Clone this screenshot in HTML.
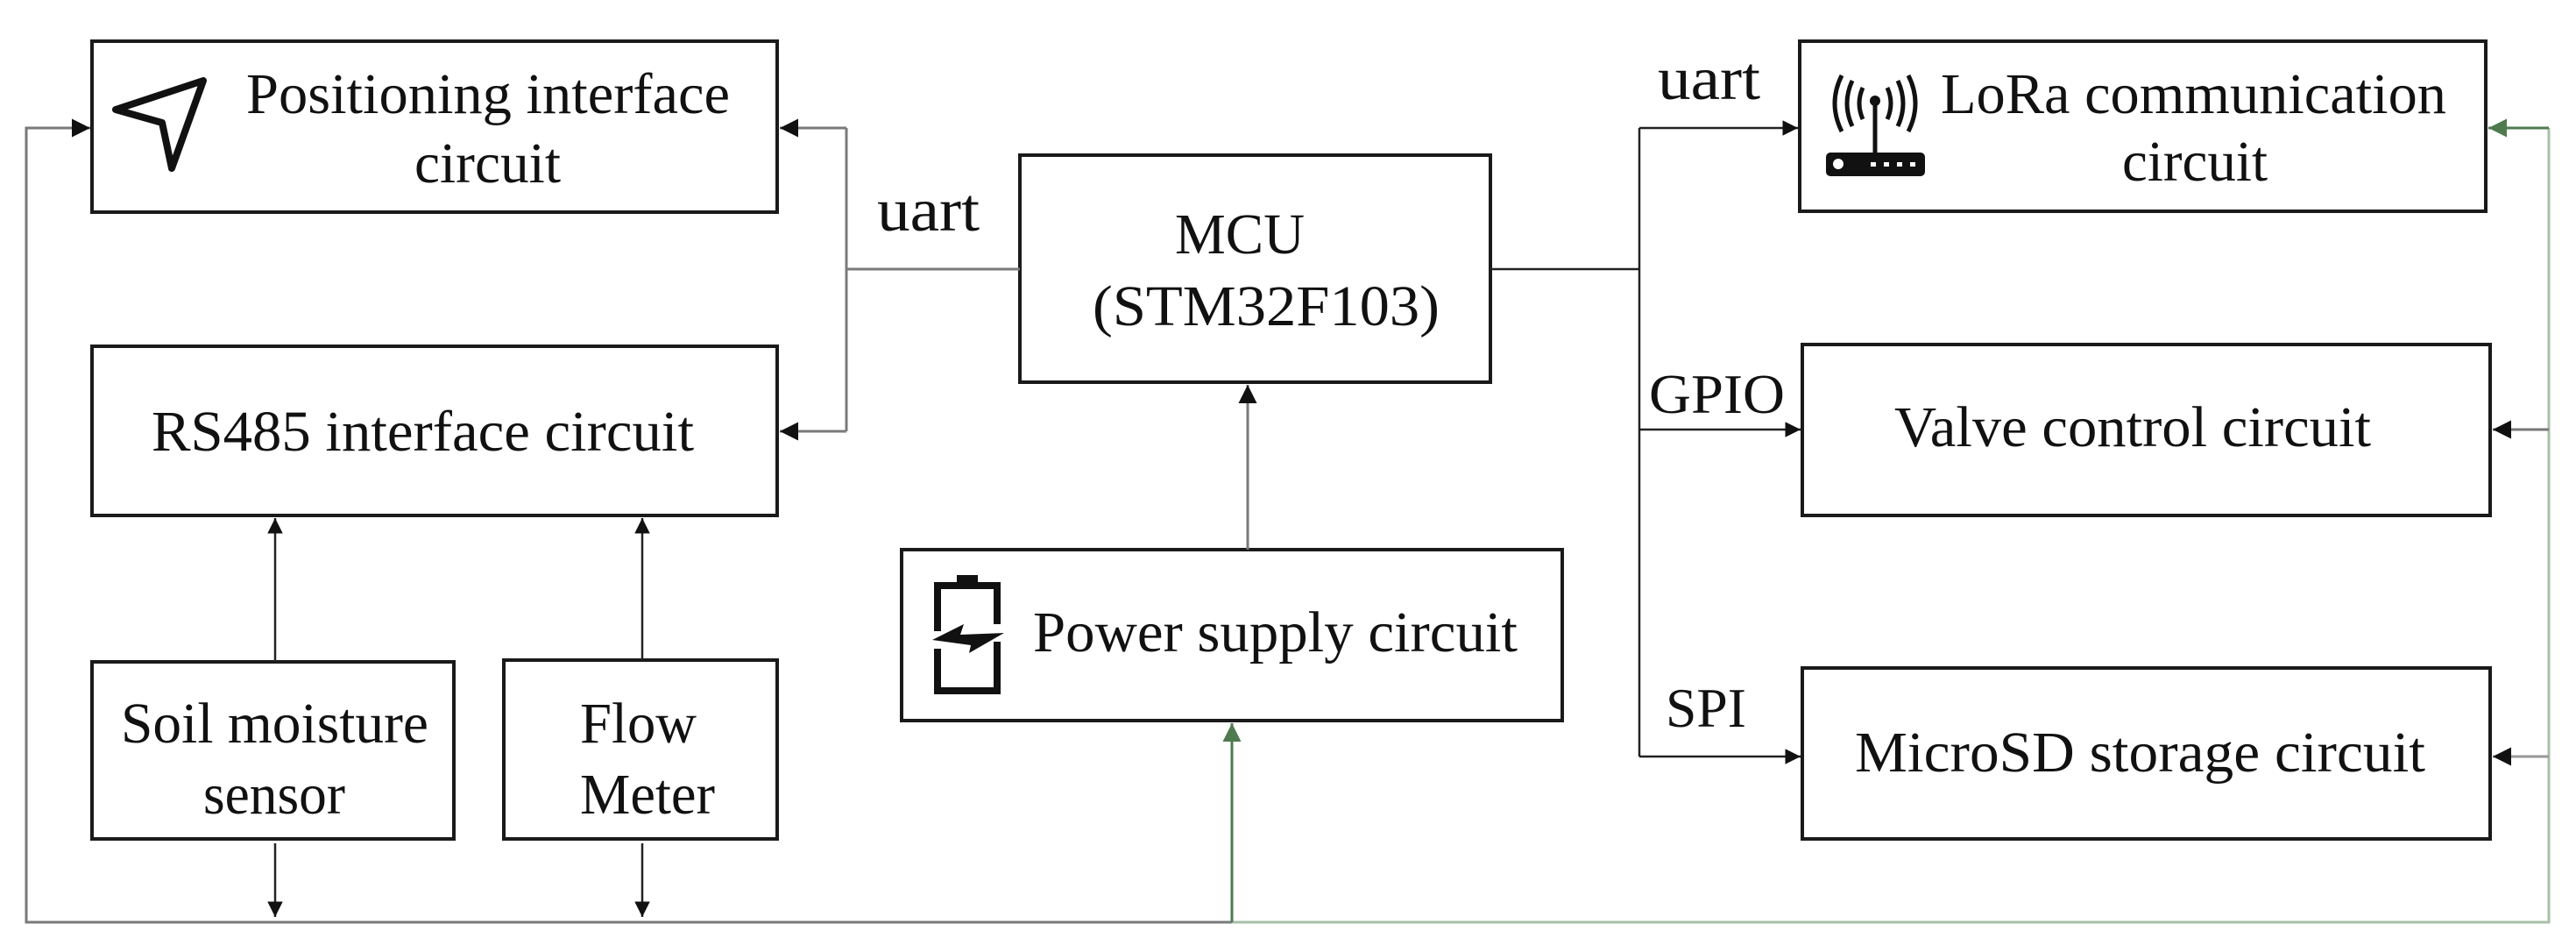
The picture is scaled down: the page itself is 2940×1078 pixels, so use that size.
<!DOCTYPE html>
<html><head><meta charset="utf-8"><style>
html,body{margin:0;padding:0;background:#fff;}
svg{display:block;}
text{font-family:"Liberation Serif",serif;fill:#111;}
</style></head><body>
<svg width="2940" height="1078" viewBox="0 0 2940 1078" xmlns="http://www.w3.org/2000/svg">
<defs>
<marker id="ab" viewBox="0 0 10 10" refX="10" refY="5" markerWidth="7" markerHeight="7" orient="auto" markerUnits="strokeWidth"><path d="M0,0 L10,5 L0,10 z" fill="#111"/></marker>
<marker id="ag" viewBox="0 0 10 10" refX="10" refY="5" markerWidth="7" markerHeight="7" orient="auto" markerUnits="strokeWidth"><path d="M0,0 L10,5 L0,10 z" fill="#4f7a4f"/></marker>
</defs>
<g fill="none" stroke="#1a1a1a" stroke-width="4">
<rect x="105" y="47" width="782" height="195"/>
<rect x="105" y="395" width="782" height="193"/>
<rect x="105" y="755" width="413" height="202"/>
<rect x="575" y="753" width="312" height="204"/>
<rect x="1164" y="177" width="537" height="259"/>
<rect x="1029" y="627" width="754" height="195"/>
<rect x="2054" y="47" width="783" height="194"/>
<rect x="2057" y="393" width="785" height="195"/>
<rect x="2057" y="762" width="785" height="195"/>
</g>
<!-- left loop -->
<g fill="none" stroke="#7a7a7a" stroke-width="3">
<polyline points="1406,1052 30,1052 30,146 103,146" marker-end="url(#ab)"/>
<polyline points="1164,307 966,307"/>
<polyline points="966,146 966,492"/>
<line x1="966" y1="146" x2="890" y2="146" marker-end="url(#ab)"/>
<line x1="966" y1="492" x2="890" y2="492" marker-end="url(#ab)"/>
<line x1="1424" y1="627" x2="1424" y2="439" marker-end="url(#ab)"/>
</g>
<g fill="none" stroke="#222" stroke-width="2.5">
<line x1="314" y1="755" x2="314" y2="591" marker-end="url(#ab)"/>
<line x1="733" y1="753" x2="733" y2="591" marker-end="url(#ab)"/>
<line x1="314" y1="962" x2="314" y2="1046" marker-end="url(#ab)"/>
<line x1="733" y1="962" x2="733" y2="1046" marker-end="url(#ab)"/>
<line x1="1701" y1="307" x2="1871" y2="307"/>
<line x1="1871" y1="146" x2="1871" y2="863"/>
<line x1="1871" y1="146" x2="2052" y2="146" marker-end="url(#ab)"/>
<line x1="1871" y1="490" x2="2055" y2="490" marker-end="url(#ab)"/>
<line x1="1871" y1="863" x2="2055" y2="863" marker-end="url(#ab)"/>
</g>
<g fill="none" stroke-width="3">
<polyline points="1406,1052 2909,1052 2909,146" stroke="#a9bfa9"/>
<line x1="2909" y1="146" x2="2840" y2="146" stroke="#4f7a4f" marker-end="url(#ag)"/>
<line x1="2909" y1="490" x2="2845" y2="490" stroke="#777" marker-end="url(#ab)"/>
<line x1="2909" y1="863" x2="2845" y2="863" stroke="#999" marker-end="url(#ab)"/>
<line x1="1406" y1="1052" x2="1406" y2="825" stroke="#4f7a4f" marker-end="url(#ag)"/>
</g>
<!-- icons -->
<path d="M132,125 L232,92 L196,192 L185,140 Z" fill="none" stroke="#111" stroke-width="8" stroke-linejoin="round"/>
<g fill="none" stroke="#111" stroke-width="8">
<path d="M1070,720 L1070,668 L1138,668 L1138,712"/>
<path d="M1070,740 L1070,788 L1138,788 L1138,732"/>
</g>
<rect x="1092" y="656" width="24" height="12" fill="#111"/>
<path d="M1064,730 L1100,712 L1096,724 L1146,722 L1106,745 L1108,736 Z" fill="#111"/>
<g fill="none" stroke="#111" stroke-width="5">
<line x1="2140" y1="118" x2="2140" y2="178"/>
<path d="M2126,100 Q2118,118 2126,136"/><path d="M2154,100 Q2162,118 2154,136"/>
<path d="M2114,92 Q2102,118 2114,144"/><path d="M2166,92 Q2178,118 2166,144"/>
<path d="M2102,86 Q2086,118 2102,150"/><path d="M2178,86 Q2194,118 2178,150"/>
</g>
<circle cx="2140" cy="115" r="6" fill="#111"/>
<rect x="2084" y="174" width="113" height="27" rx="5" fill="#111"/>
<circle cx="2098" cy="187" r="6" fill="#fff"/>
<g fill="#fff"><rect x="2135" y="185" width="6" height="5"/><rect x="2150" y="185" width="6" height="5"/><rect x="2165" y="185" width="6" height="5"/><rect x="2180" y="185" width="6" height="5"/></g>
<!-- text -->
<g font-size="66">
<text x="281" y="129" textLength="552" lengthAdjust="spacingAndGlyphs">Positioning  interface</text>
<text x="473" y="208" textLength="167" lengthAdjust="spacingAndGlyphs">circuit</text>
<text x="173" y="514" textLength="619" lengthAdjust="spacingAndGlyphs">RS485 interface  circuit</text>
<text x="138" y="847" textLength="351" lengthAdjust="spacingAndGlyphs">Soil moisture</text>
<text x="232" y="928" textLength="162" lengthAdjust="spacingAndGlyphs">sensor</text>
<text x="662" y="847" textLength="133" lengthAdjust="spacingAndGlyphs">Flow</text>
<text x="662" y="928" textLength="154" lengthAdjust="spacingAndGlyphs">Meter</text>
<text x="1341" y="289" textLength="148" lengthAdjust="spacingAndGlyphs">MCU</text>
<text x="1247" y="371" textLength="396" lengthAdjust="spacingAndGlyphs">(STM32F103)</text>
<text x="1179" y="743" textLength="553" lengthAdjust="spacingAndGlyphs">Power supply  circuit</text>
<text x="2215" y="129" textLength="577" lengthAdjust="spacingAndGlyphs">LoRa communication</text>
<text x="2422" y="206" textLength="166" lengthAdjust="spacingAndGlyphs">circuit</text>
<text x="2162" y="509" textLength="544" lengthAdjust="spacingAndGlyphs">Valve control  circuit</text>
<text x="2117" y="880" textLength="651" lengthAdjust="spacingAndGlyphs">MicroSD  storage circuit</text>
</g>
<g font-size="70">
<text x="1001" y="263" textLength="117" lengthAdjust="spacingAndGlyphs">uart</text>
<text x="1892" y="113" textLength="117" lengthAdjust="spacingAndGlyphs">uart</text>
</g>
<g font-size="64">
<text x="1882" y="471" textLength="155" lengthAdjust="spacingAndGlyphs">GPIO</text>
<text x="1901" y="829" textLength="92" lengthAdjust="spacingAndGlyphs">SPI</text>
</g>
</svg>
</body></html>
